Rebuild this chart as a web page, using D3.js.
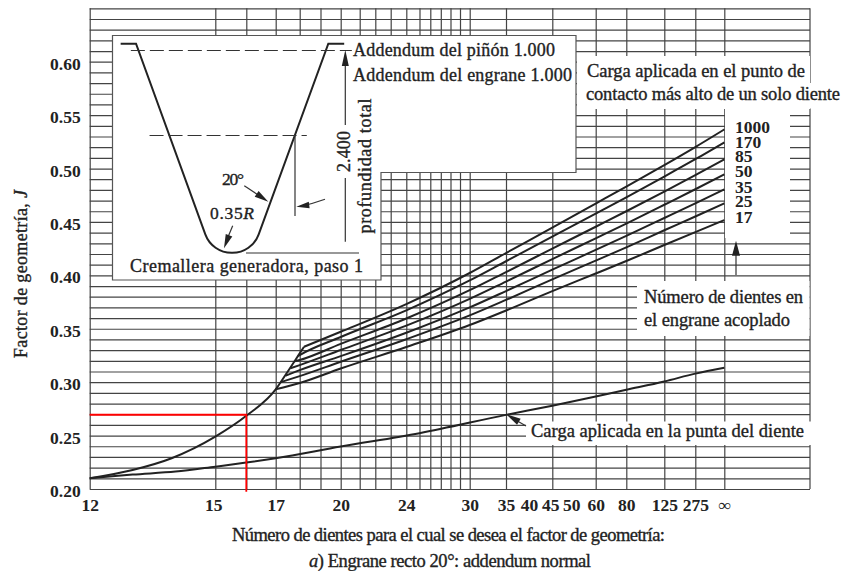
<!DOCTYPE html>
<html>
<head>
<meta charset="utf-8">
<script src="https://cdn.jsdelivr.net/npm/d3@7"></script>
<style>
  html, body { margin: 0; padding: 0; background: #fff; }
  svg { display: block; }
  svg text { font-family: "Liberation Serif", "Times New Roman", Times, serif; fill: #222; }
  .tick text { font-size: 17.5px; font-weight: 700; font-family: "Liberation Serif", "Times New Roman", Times, serif; }
  .note { stroke: #222; stroke-width: 0.35px; }
  .grid path { display: none; }
  .grid line { stroke: #444; stroke-width: 1.2px; }
  .labels path { display: none; }
</style>
</head>
<body>
<svg id="chart" width="843" height="571"></svg>
<script>
// teeth where the printed grid has a vertical line
var gridTeeth = [12, 15, 16, 17, 18, 19, 20, 21, 22, 23, 24, 25, 26, 27, 28, 29, 30, 35, 45, 60, 80, 125, 275, Infinity];
var labelTeeth = [12, 15, 17, 20, 24, 30, 35, 40, 45, 50, 60, 80, 125, 275, Infinity];
var gridJ = d3.range(20, 66).map(function(d) { return d / 100; });
var labelJ = [0.20, 0.25, 0.30, 0.35, 0.40, 0.45, 0.50, 0.55, 0.60];

// curve from the highest point of single tooth contact
var mainTeeth = [12, 12.88, 13.8, 15, 16, 17, 17.4, 18, 18.2];
var mainJ = [0.21, 0.2178, 0.2288, 0.249, 0.2685, 0.2933, 0.307, 0.327, 0.3332];

var tipTeeth = [12, 12.88, 13.9, 15, 16, 17, 20, 25, 35, 45, 60, 80, 125, 275, Infinity];
var tipJ = [0.21, 0.2135, 0.2163, 0.2209, 0.2247, 0.2288, 0.2397, 0.2522, 0.2694, 0.278, 0.2866, 0.2929, 0.3007, 0.308, 0.3135];

var familyTeeth = [20, 24, 30, 35, 45, 60, 80, 125, 275, Infinity];
var matingNames = ["1000", "170", "85", "50", "35", "25", "17"];
var j1000 = [0.3472, 0.3731, 0.4022, 0.4209, 0.4447, 0.4672, 0.4831, 0.5032, 0.5201, 0.5366];
var j170 = [0.3423, 0.3672, 0.3952, 0.4132, 0.4362, 0.4578, 0.4731, 0.4925, 0.5087, 0.5245];
var j85 = [0.3358, 0.3596, 0.3861, 0.4031, 0.425, 0.4455, 0.46, 0.4784, 0.4938, 0.5086];
var j50 = [0.3301, 0.3529, 0.378, 0.3942, 0.4152, 0.4347, 0.4485, 0.4661, 0.4806, 0.4945];
var j35 = [0.3244, 0.3463, 0.37, 0.3853, 0.4054, 0.4238, 0.437, 0.4537, 0.4674, 0.4805];
var j25 = [0.3191, 0.3402, 0.3625, 0.377, 0.3962, 0.4138, 0.4262, 0.4422, 0.4551, 0.4674];
var j17 = [0.3128, 0.3329, 0.3535, 0.3671, 0.3853, 0.4017, 0.4134, 0.4284, 0.4405, 0.4517];

// where each branch leaves the main curve, then its value at 18 teeth
var branchStartTeeth = [18.2, 17.93, 17.78, 17.6, 17.4, 17.2, 17];
var branchStartJ = [0.3332, 0.3245, 0.3195, 0.313, 0.306, 0.3, 0.2933];
var branchAt18 = [null, 0.3254, 0.3207, 0.316, 0.3113, 0.3057, 0.2992];

var redTeeth = 16;
var redJ = 0.2695;

var svg = d3.select("#chart");
var margin = {top: 8.3, right: 810, bottom: 489, left: 89.7};

// the printed axis is about linear in 1/N, so the scale works on 1/N
var xStops = [89.7, 215.3, 246.3, 275.7, 299.7, 320.5, 340.7, 359.7, 375.3, 390.7, 406.3, 419.5, 430.3, 440.8, 450.5, 460, 469.7, 506, 552.3, 595.7, 626.3, 664.3, 695.3, 724.3];
var xInv = d3.scaleLinear()
  .domain(gridTeeth.map(function(d) { return 1 / d; }))
  .range(xStops);
var x = function(n) { return xInv(1 / n); };
var y = d3.scaleLinear().domain([0.20, 0.65]).range([margin.bottom, margin.top]);

svg.append("rect").attr("width", 843).attr("height", 571).attr("fill", "#fff");

// grid
svg.append("g")
  .attr("class", "grid")
  .attr("transform", "translate(" + margin.left + ",0)")
  .call(d3.axisLeft(y).tickValues(gridJ).tickSize(-(margin.right - margin.left)).tickFormat(""));

svg.append("g")
  .attr("class", "grid")
  .attr("transform", "translate(0," + margin.bottom + ")")
  .call(d3.axisBottom(xInv)
    .tickValues(gridTeeth.map(function(d) { return 1 / d; }))
    .tickSize(-(margin.bottom - margin.top))
    .tickFormat(""));

svg.append("line")
  .attr("x1", margin.right).attr("x2", margin.right)
  .attr("y1", margin.top).attr("y2", margin.bottom)
  .attr("stroke", "#444")
  .attr("stroke-width", 1.2);

// curves
var curve = d3.line()
  .x(function(d) { return x(d[0]); })
  .y(function(d) { return y(d[1]); })
  .curve(d3.curveMonotoneX);

function drawCurve(teeth, values) {
  svg.append("path")
    .attr("d", curve(teeth.map(function(t, i) { return [t, values[i]]; })))
    .attr("fill", "none")
    .attr("stroke", "#222")
    .attr("stroke-width", 2);
}

drawCurve(mainTeeth, mainJ);
drawCurve(tipTeeth, tipJ);

[j1000, j170, j85, j50, j35, j25, j17].forEach(function(values, i) {
  var teeth = [branchStartTeeth[i]];
  var vals = [branchStartJ[i]];
  if (branchAt18[i] !== null) {
    teeth.push(18);
    vals.push(branchAt18[i]);
  }
  drawCurve(teeth.concat(familyTeeth), vals.concat(values));
});

// red reading of the example
svg.append("path")
  .attr("d", "M" + margin.left + "," + y(redJ) + "H" + x(redTeeth) + "V" + (margin.bottom + 2.7))
  .attr("fill", "none")
  .attr("stroke", "#f00")
  .attr("stroke-width", 1.8);

// white patches behind the notes
var patches = [
  [577, 56, 233, 53],
  [577, 83, 268, 25.5],
  [725, 109, 65, 129],
  [637, 281, 172.5, 55],
  [526, 421.5, 285, 23.5]
];
svg.selectAll(".patch").data(patches).enter().append("rect")
  .attr("class", "patch")
  .attr("x", function(d) { return d[0]; })
  .attr("y", function(d) { return d[1]; })
  .attr("width", function(d) { return d[2]; })
  .attr("height", function(d) { return d[3]; })
  .attr("fill", "#fff");

// tick labels
svg.append("g")
  .attr("class", "labels")
  .attr("transform", "translate(" + margin.left + ",0)")
  .call(d3.axisLeft(y).tickValues(labelJ).tickSize(0).tickPadding(9).tickFormat(d3.format(".2f")))
  .selectAll("text").attr("dy", "0.43em");

// a few printed labels sit slightly off their grid line
var labelNudge = {15: -2, 40: -3, 45: -2, 50: 1.5};
svg.append("g")
  .attr("class", "labels")
  .attr("transform", "translate(0," + margin.bottom + ")")
  .call(d3.axisBottom(xInv)
    .tickValues(labelTeeth.map(function(d) { return 1 / d; }))
    .tickSize(0)
    .tickPadding(10)
    .tickFormat(function(d) { return d === 0 ? "∞" : Math.round(1 / d); }))
  .selectAll("text")
  .attr("dx", function(d) { return labelNudge[Math.round(1 / d)] || 0; });

svg.selectAll(".labels").attr("font-family", null).attr("font-size", null);

// inset with the generating rack
var inset = svg.append("g");
inset.append("path")
  .attr("d", "M112.5,35.5H576V172.5H381V280H112.5Z")
  .attr("fill", "#fff")
  .attr("stroke", "#555")
  .attr("stroke-width", 1.2);

// rack is laid out in modules around the pitch line
var rackX = d3.scaleLinear().domain([0, 1]).range([232, 317]);
var rackY = d3.scaleLinear().domain([0, 1]).range([135.5, 220.5]);

var rack = d3.path();
rack.moveTo(rackX(-1.31), rackY(-1.08));
rack.lineTo(rackX(-1.129), rackY(-1.08));
rack.arcTo(rackX(-0.235), rackY(1.38), rackX(0.235), rackY(1.38), 28);
rack.arcTo(rackX(0.235), rackY(1.38), rackX(1.133), rackY(-1.08), 28);
rack.lineTo(rackX(1.133), rackY(-1.08));
rack.lineTo(rackX(1.32), rackY(-1.08));
inset.append("path")
  .attr("d", rack.toString())
  .attr("fill", "none")
  .attr("stroke", "#222")
  .attr("stroke-width", 2);

function thin(g, x1, y1, x2, y2, dash, w) {
  return g.append("line")
    .attr("x1", x1).attr("y1", y1).attr("x2", x2).attr("y2", y2)
    .attr("stroke", "#333")
    .attr("stroke-width", w || 1.2)
    .attr("stroke-dasharray", dash || null);
}

function head(g, x1, y1, x2, y2, len, wide) {
  var a = Math.atan2(y2 - y1, x2 - x1);
  var bx = x2 - len * Math.cos(a), by = y2 - len * Math.sin(a);
  var nx = -Math.sin(a) * wide / 2, ny = Math.cos(a) * wide / 2;
  g.append("path")
    .attr("d", d3.line()([[x2, y2], [bx + nx, by + ny], [bx - nx, by - ny]]) + "Z")
    .attr("fill", "#222");
}

thin(inset, rackX(-1.19), rackY(-1), rackX(1.41), rackY(-1), "14 5");
thin(inset, rackX(-0.97), rackY(0), rackX(0.88), rackY(0), "14 5");
thin(inset, 295, 135.5, 295, 216);
thin(inset, 246, 253, 359, 253, null, 1.2);
thin(inset, 345.3, 62, 345.3, 125);
thin(inset, 345.3, 178, 345.3, 241.7);
head(inset, 345.3, 68, 345.3, 50, 16, 7);

inset.append("path")
  .attr("d", "M325,199.3Q312,204 300,206.5")
  .attr("fill", "none").attr("stroke", "#333").attr("stroke-width", 1.2);
head(inset, 325, 203, 296.3, 206.7, 13, 6.5);

thin(inset, 244.3, 185.7, 262, 197.5);
head(inset, 244.3, 185.7, 268.3, 201.7, 14, 7);

thin(inset, 232.7, 225.7, 228, 237);
head(inset, 232.7, 225.7, 224, 248.3, 14, 7);

// notes
function note(parts, px, py, len, size, rotate) {
  var t = svg.append("text")
    .attr("class", "note")
    .attr("x", px)
    .attr("y", py)
    .attr("font-size", size)
    .attr("textLength", len)
    .attr("lengthAdjust", "spacing");
  if (rotate) {
    t.attr("transform", "rotate(-90 " + px + " " + py + ")");
  }
  parts.forEach(function(p) {
    var s = t.append("tspan").text(p.replace("*", ""));
    if (p.charAt(0) === "*") s.attr("font-style", "italic");
  });
  return t;
}

note(["Addendum del piñón 1.000"], 353, 55.5, 202, 18);
note(["Addendum del engrane 1.000"], 353, 81, 219, 18);
note(["Cremallera generadora, paso 1"], 130, 271.5, 233, 18);
note(["20°"], 222, 185, 22, 17.5);
note(["0.35", "*R"], 210, 219, 44, 17.5);
note(["2.400"], 349.5, 172, 41, 18, true);
note(["profundidad total"], 371, 233.5, 135, 18, true);

note(["Carga aplicada en el punto de"], 587, 76.7, 218, 18.5);
note(["contacto más alto de un solo diente"], 586, 100, 254, 18.5);
note(["Número de dientes en"], 644, 302.7, 159, 18.5);
note(["el engrane acoplado"], 644, 326, 146, 18.5);
note(["Carga aplicada en la punta del diente"], 531, 436.7, 273, 18.5);

note(["Número de dientes para el cual se desea el factor de geometría:"], 232, 541, 433, 18.5);
note(["*a", ") Engrane recto 20°: addendum normal"], 309, 566.7, 282, 18.5);
note(["Factor de geometría, ", "*J"], 27, 358, 168, 18, true);

// mating gear numbers
var nameBase = [133, 147.7, 161.7, 177.3, 193, 207, 222.7];
svg.selectAll(".mating").data(matingNames).enter().append("text")
  .attr("class", "mating")
  .attr("x", 735)
  .attr("y", function(d, i) { return nameBase[i]; })
  .attr("font-size", 17.5)
  .attr("font-weight", 700)
  .text(function(d) { return d; });

// arrows outside the inset
thin(svg, 736, 275, 736, 254);
head(svg, 736, 275, 736, 240.7, 15, 8);
thin(svg, 526, 426, 514, 419, null, 1.2);
head(svg, 526, 426, 506, 414, 15, 7);
</script>
</body>
</html>
